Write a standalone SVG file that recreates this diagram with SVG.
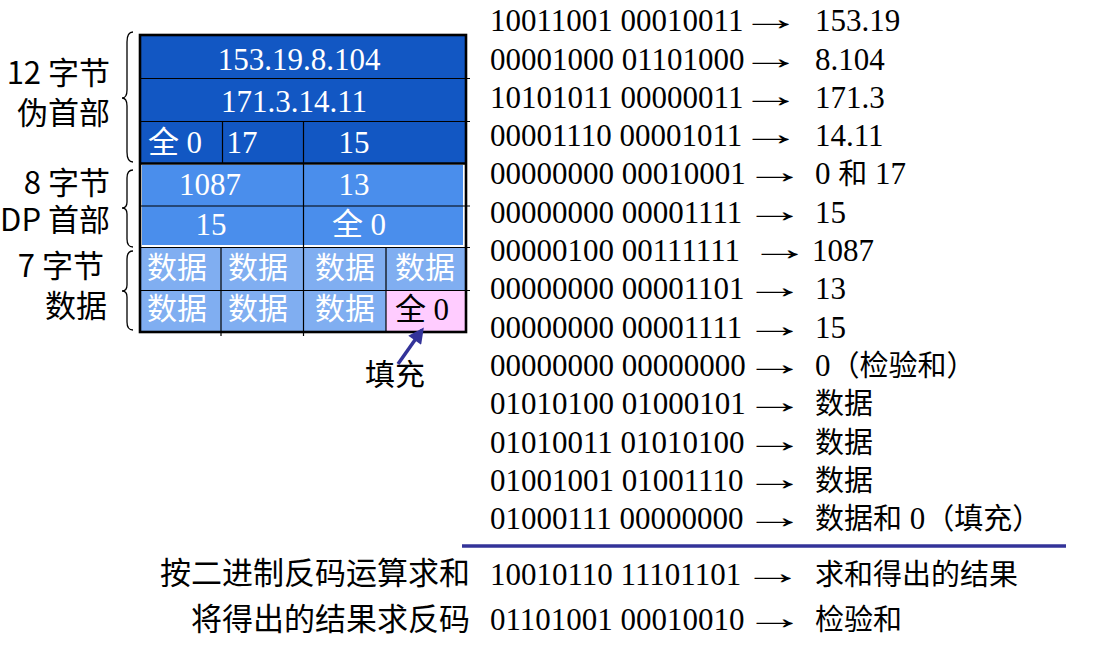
<svg xmlns="http://www.w3.org/2000/svg" width="1094" height="670" viewBox="0 0 1094 670">
<defs>
<style>
.cell{font-family:"Liberation Serif","Noto Sans CJK SC",serif;font-size:31px;fill:#fff;text-anchor:middle}
.cz{font-family:"Noto Sans CJK SC",sans-serif;font-size:30px;fill:#fff;text-anchor:middle}
.lbl{font-family:"Noto Sans CJK SC",sans-serif;font-size:31px;fill:#000;text-anchor:end}
.row{font-family:"Liberation Serif","Noto Sans CJK SC",serif;font-size:31px;fill:#000}
.zh{font-family:"Noto Sans CJK SC",sans-serif;font-size:29px}
.ar{font-family:"Liberation Serif",serif;font-size:34px;fill:#000}
.grid{stroke:#000;stroke-width:1.2;fill:none}
.frame{stroke:#000;stroke-width:2.6;fill:none}
.brace{stroke:#000;stroke-width:1.3;fill:none}
</style>
<marker id="ah" viewBox="0 0 10 10" refX="8" refY="5" markerWidth="5" markerHeight="4.5" orient="auto" markerUnits="strokeWidth"><path d="M0,0 L10,5 L0,10 z" fill="#333399"/></marker>
</defs>
<rect width="1094" height="670" fill="#fff"/>

<g id="pseudo-header">
<rect x="140" y="35" width="326" height="128" fill="#1257C3"/>
<line class="grid" x1="140" y1="78.5" x2="470" y2="78.5"/>
<line class="grid" x1="140" y1="121.5" x2="470" y2="121.5"/>
<line class="grid" x1="222.5" y1="121.5" x2="222.5" y2="166"/>
<text class="cell" x="299" y="70">153.19.8.104</text>
<text class="cell" x="294" y="112">171.3.14.11</text>
<text class="cell" x="175" y="153">全 0</text>
<text class="cell" x="242" y="153">17</text>
<text class="cell" x="354" y="153">15</text>
</g>

<g id="udp-header">
<rect x="140" y="163" width="326" height="84" fill="#fff"/>
<rect x="142" y="165" width="321" height="80" fill="#4A8EEC"/>
<line class="grid" x1="140" y1="206" x2="470" y2="206"/>
<text class="cell" x="210" y="195">1087</text>
<text class="cell" x="354" y="195">13</text>
<text class="cell" x="211" y="235">15</text>
<text class="cell" x="359" y="235">全 0</text>
</g>

<g id="data">
<rect x="140" y="247" width="326" height="85" fill="#80AEF1"/>
<rect x="386" y="290.5" width="79" height="41" fill="#FFCCFF"/>
<line class="grid" x1="140" y1="247.5" x2="470" y2="247.5"/>
<line class="grid" x1="140" y1="290.5" x2="470" y2="290.5"/>
<line class="grid" x1="221" y1="247" x2="221" y2="336"/>
<line class="grid" x1="386" y1="247" x2="386" y2="332"/>
<text class="cz" x="177" y="278">数据</text>
<text class="cz" x="258" y="278">数据</text>
<text class="cz" x="345" y="278">数据</text>
<text class="cz" x="425" y="278">数据</text>
<text class="cz" x="177" y="319">数据</text>
<text class="cz" x="258" y="319">数据</text>
<text class="cz" x="345" y="319">数据</text>
<text class="cell" x="422" y="320" style="fill:#000">全 0</text>
</g>

<g id="frame">
<line class="grid" x1="303.5" y1="121.5" x2="303.5" y2="336"/>
<rect class="frame" x="140" y="35" width="326" height="297"/>
<line class="frame" x1="140" y1="163.5" x2="466" y2="163.5"/>
</g>

<g id="labels">
<path class="brace" d="M133,32 Q127,32 127,42 L127,90 Q127,98 122,98 Q127,98 127,106 L127,152 Q127,162 133,162"/>
<path class="brace" d="M133,170 Q127,170 127,178 L127,202 Q127,208 122,208 Q127,208 127,214 L127,239 Q127,247 133,247"/>
<path class="brace" d="M133,251 Q127,251 127,259 L127,285 Q127,291 122,291 Q127,291 127,297 L127,322 Q127,330 133,330"/>
<text class="lbl" x="110" y="84">12 字节</text>
<text class="lbl" x="110" y="124">伪首部</text>
<text class="lbl" x="110" y="194">8 字节</text>
<text class="lbl" x="110" y="231">UDP 首部</text>
<text class="lbl" x="104" y="277">7 字节</text>
<text class="lbl" x="107" y="317">数据</text>
</g>

<g id="fill-label">
<text x="365" y="385" style="font-family:'Noto Sans CJK SC',sans-serif;font-size:30px;fill:#000">填充</text>
</g>

<g id="connectors">
<line x1="398" y1="364" x2="422" y2="330" stroke="#333399" stroke-width="3.5" marker-end="url(#ah)"/>
<line x1="462" y1="546" x2="1066" y2="546" stroke="#333399" stroke-width="3.5"/>
</g>

<g id="arrows">
<text class="ar" transform="translate(740,30) scale(1.8,1)">→</text>
<text class="ar" transform="translate(740,69) scale(1.8,1)">→</text>
<text class="ar" transform="translate(740,107) scale(1.8,1)">→</text>
<text class="ar" transform="translate(740,145) scale(1.8,1)">→</text>
<text class="ar" transform="translate(744,183) scale(1.8,1)">→</text>
<text class="ar" transform="translate(744,222) scale(1.8,1)">→</text>
<text class="ar" transform="translate(749,260) scale(1.8,1)">→</text>
<text class="ar" transform="translate(744,298) scale(1.8,1)">→</text>
<text class="ar" transform="translate(744,337) scale(1.8,1)">→</text>
<text class="ar" transform="translate(744,375) scale(1.8,1)">→</text>
<text class="ar" transform="translate(744,413) scale(1.8,1)">→</text>
<text class="ar" transform="translate(744,452) scale(1.8,1)">→</text>
<text class="ar" transform="translate(744,490) scale(1.8,1)">→</text>
<text class="ar" transform="translate(744,528) scale(1.8,1)">→</text>
<text class="ar" transform="translate(742,584) scale(1.8,1)">→</text>
<text class="ar" transform="translate(744,629) scale(1.8,1)">→</text>
</g>

<g id="sums">
<text class="row" y="31"><tspan x="490">10011001 00010011</tspan><tspan x="815">153.19</tspan></text>
<text class="row" y="70"><tspan x="490">00001000 01101000</tspan><tspan x="815">8.104</tspan></text>
<text class="row" y="108"><tspan x="490">10101011 00000011</tspan><tspan x="815">171.3</tspan></text>
<text class="row" y="146"><tspan x="490">00001110 00001011</tspan><tspan x="815">14.11</tspan></text>
<text class="row" y="184"><tspan x="490">00000000 00010001</tspan><tspan x="815">0 </tspan><tspan class="zh">和</tspan><tspan> 17</tspan></text>
<text class="row" y="223"><tspan x="490">00000000 00001111</tspan><tspan x="815">15</tspan></text>
<text class="row" y="261"><tspan x="490">00000100 00111111</tspan><tspan x="812">1087</tspan></text>
<text class="row" y="299"><tspan x="490">00000000 00001101</tspan><tspan x="815">13</tspan></text>
<text class="row" y="338"><tspan x="490">00000000 00001111</tspan><tspan x="815">15</tspan></text>
<text class="row" y="376"><tspan x="490">00000000 00000000</tspan><tspan x="815">0</tspan><tspan class="zh">（检验和）</tspan></text>
<text class="row" y="414"><tspan x="490">01010100 01000101</tspan><tspan x="815" class="zh">数据</tspan></text>
<text class="row" y="453"><tspan x="490">01010011 01010100</tspan><tspan x="815" class="zh">数据</tspan></text>
<text class="row" y="491"><tspan x="490">01001001 01001110</tspan><tspan x="815" class="zh">数据</tspan></text>
<text class="row" y="529"><tspan x="490">01000111 00000000</tspan><tspan x="815" class="zh">数据和</tspan><tspan> 0</tspan><tspan class="zh">（填充）</tspan></text>
<text class="row" y="585"><tspan x="490">10010110 11101101</tspan><tspan x="815" class="zh">求和得出的结果</tspan></text>
<text class="row" y="630"><tspan x="490">01101001 00010010</tspan><tspan x="815" class="zh">检验和</tspan></text>
<text class="lbl" x="470" y="584">按二进制反码运算求和</text>
<text class="lbl" x="470" y="630">将得出的结果求反码</text>
</g>
</svg>
